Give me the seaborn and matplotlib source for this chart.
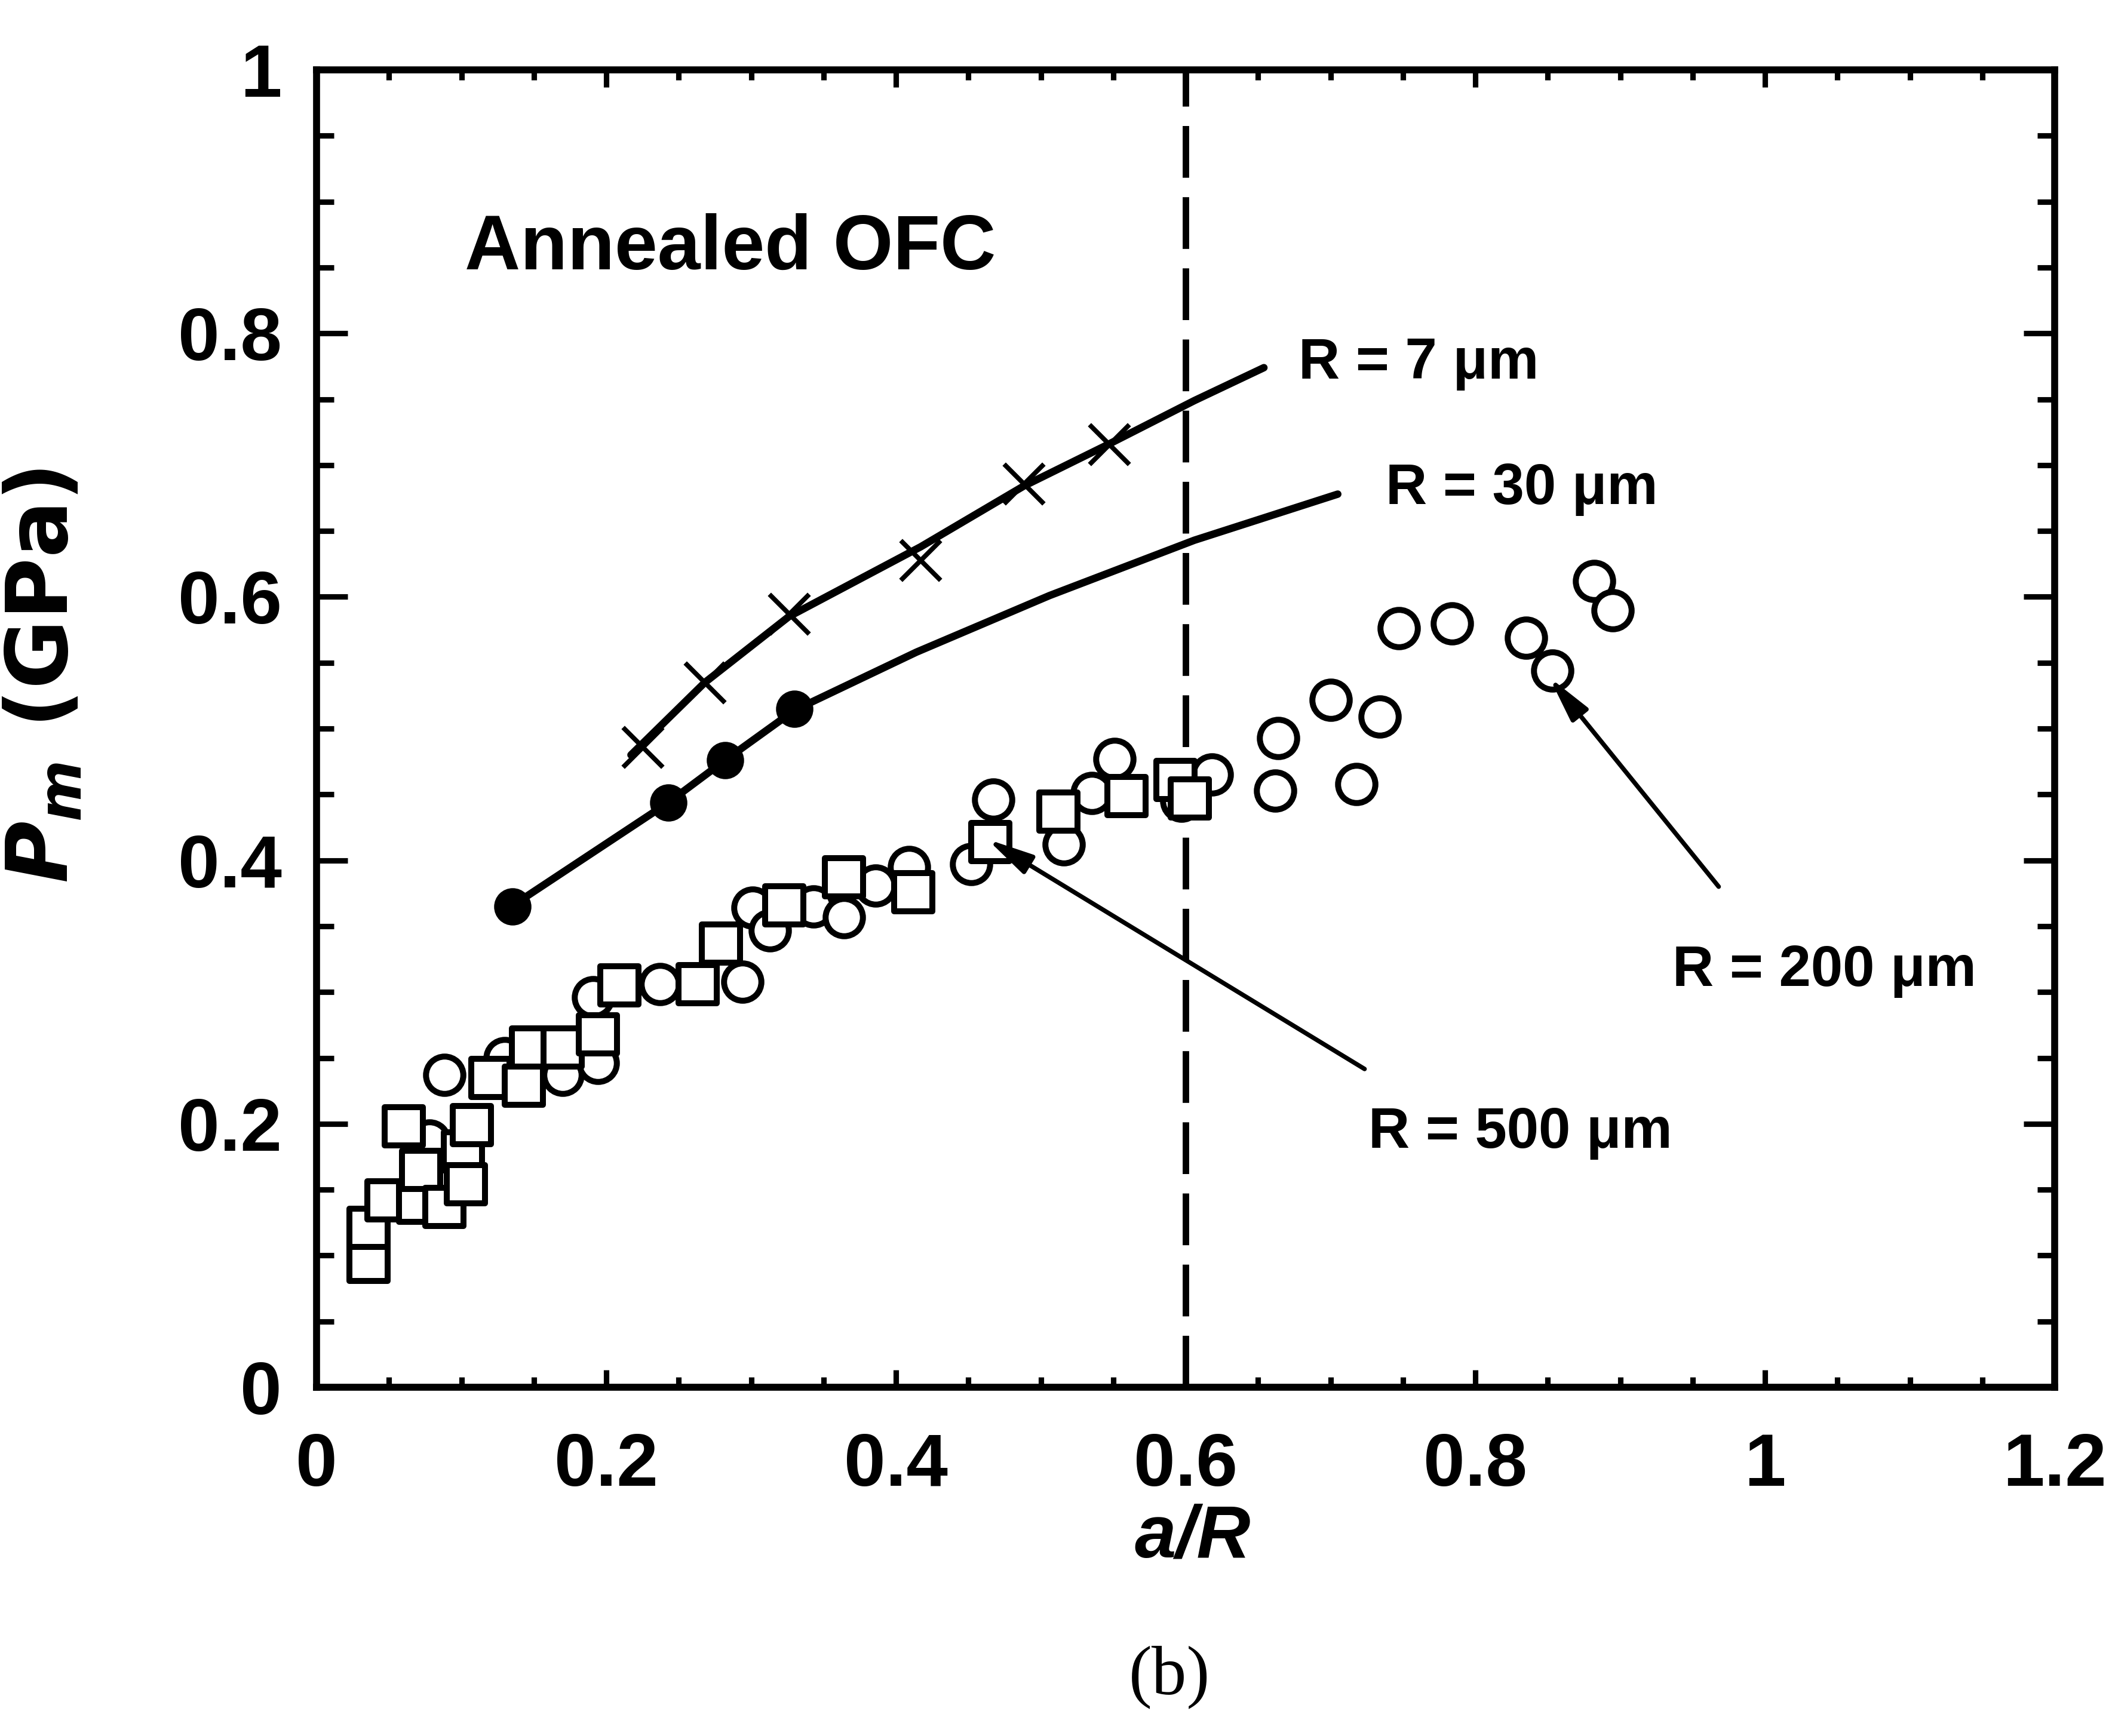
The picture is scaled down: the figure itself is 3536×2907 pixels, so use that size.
import numpy as np
import pandas as pd
import matplotlib
matplotlib.use("Agg")
import matplotlib.pyplot as plt
from matplotlib.ticker import AutoMinorLocator
import seaborn as sns

# ---------------- data ----------------
# R = 200 um (open circles)
r200_x = [0.088, 0.078, 0.130, 0.170, 0.194, 0.191, 0.237, 0.294, 0.301, 0.313,
          0.343, 0.364, 0.386, 0.409, 0.452, 0.467, 0.516, 0.535, 0.551, 0.597,
          0.618, 0.662, 0.664, 0.700, 0.718, 0.734, 0.747, 0.784, 0.835, 0.853,
          0.882, 0.895]
r200_y = [0.237, 0.187, 0.250, 0.237, 0.246, 0.296, 0.306, 0.308, 0.364, 0.347,
          0.365, 0.357, 0.381, 0.395, 0.397, 0.446, 0.412, 0.451, 0.477, 0.445,
          0.465, 0.453, 0.493, 0.522, 0.458, 0.509, 0.576, 0.580, 0.569, 0.544,
          0.612, 0.590]

# R = 500 um (open squares)
r500_x = [0.036, 0.036, 0.048, 0.060, 0.070, 0.072, 0.088, 0.101, 0.103, 0.107,
          0.120, 0.143, 0.148, 0.170, 0.194, 0.209, 0.263, 0.279, 0.323, 0.364,
          0.412, 0.465, 0.512, 0.559, 0.593, 0.603]
r500_y = [0.095, 0.121, 0.142, 0.198, 0.140, 0.165, 0.137, 0.179, 0.154, 0.199,
          0.235, 0.229, 0.258, 0.258, 0.268, 0.305, 0.306, 0.337, 0.366, 0.387,
          0.376, 0.414, 0.437, 0.449, 0.461, 0.447]

# R = 30 um (filled circles + curve)
r30_x = [0.135, 0.243, 0.282, 0.330]
r30_y = [0.365, 0.444, 0.476, 0.515]
r30_curve_x = [0.133, 0.243, 0.282, 0.330, 0.414, 0.506, 0.606, 0.705]
r30_curve_y = [0.364, 0.444, 0.476, 0.514, 0.558, 0.601, 0.643, 0.678]

# R = 7 um (crosses + curve)
r7_x = [0.225, 0.268, 0.326, 0.417, 0.488, 0.547]
r7_y = [0.486, 0.535, 0.587, 0.628, 0.686, 0.716]
r7_curve_x = [0.217, 0.268, 0.326, 0.417, 0.488, 0.547, 0.606, 0.654]
r7_curve_y = [0.480, 0.535, 0.585, 0.638, 0.684, 0.716, 0.749, 0.774]

x_ticks = [0, 0.2, 0.4, 0.6, 0.8, 1.0, 1.2]
x_tick_labels = ["0", "0.2", "0.4", "0.6", "0.8", "1", "1.2"]
y_ticks = [0, 0.2, 0.4, 0.6, 0.8, 1.0]
y_tick_labels = ["0", "0.2", "0.4", "0.6", "0.8", "1"]

critical_ratio = 0.6

# ---------------- style ----------------
sns.set_style("ticks")
FONT = ["Liberation Sans Narrow", "Liberation Sans", "DejaVu Sans"]
plt.rcParams["font.family"] = FONT
plt.rcParams["text.color"] = "black"
plt.rcParams["axes.labelcolor"] = "black"
plt.rcParams["xtick.color"] = "black"
plt.rcParams["ytick.color"] = "black"
plt.rcParams["mathtext.fontset"] = "custom"
plt.rcParams["mathtext.it"] = "DejaVu Sans:italic:bold"
plt.rcParams["mathtext.rm"] = "DejaVu Sans:bold"
plt.rcParams["mathtext.bf"] = "DejaVu Sans:bold"

fig = plt.figure(figsize=(3537 / 300, 2907 / 300), dpi=300)
ax = fig.add_axes([0.1499, 0.2009, 0.8227, 0.7588])

# open circles (R=200) then open squares (R=500)
sns.scatterplot(x=r200_x, y=r200_y, marker="o", s=15 ** 2, color="white",
                edgecolor="black", linewidth=2.4, ax=ax, zorder=3, legend=False)
sns.scatterplot(x=r500_x, y=r500_y, marker="s", s=15.5 ** 2, color="white",
                edgecolor="black", linewidth=2.4, ax=ax, zorder=4, legend=False)

# fitted curves
sns.lineplot(x=r7_curve_x, y=r7_curve_y, color="black", lw=3.0, ax=ax,
             sort=False, estimator=None, zorder=5)
sns.lineplot(x=r30_curve_x, y=r30_curve_y, color="black", lw=3.0, ax=ax,
             sort=False, estimator=None, zorder=5)

# filled circles (R=30) and crosses (R=7)
sns.scatterplot(x=r30_x, y=r30_y, marker="o", s=14 ** 2, color="black",
                edgecolor="black", linewidth=1, ax=ax, zorder=6, legend=False)
sns.scatterplot(x=r7_x, y=r7_y, marker="x", s=16 ** 2, color="black",
                linewidth=1.9, ax=ax, zorder=6, legend=False)

# dashed vertical line
ax.axvline(critical_ratio, color="black", lw=2.6, ls=(0, (8, 3)), zorder=2)

# axes
ax.set_xlim(0, 1.2)
ax.set_ylim(0, 1.0)
ax.set_xticks(x_ticks)
ax.set_xticklabels(x_tick_labels)
ax.set_yticks(y_ticks)
ax.set_yticklabels(y_tick_labels)
ax.xaxis.set_minor_locator(AutoMinorLocator(4))
ax.yaxis.set_minor_locator(AutoMinorLocator(4))
ax.tick_params(which="both", direction="in", top=True, right=True, width=2.2,
               colors="black")
ax.tick_params(axis="x", which="major", length=7, pad=18)
ax.tick_params(axis="x", which="minor", length=4)
ax.tick_params(axis="y", which="major", length=12.5, pad=14)
ax.tick_params(axis="y", which="minor", length=7)
for lab in ax.get_xticklabels() + ax.get_yticklabels():
    lab.set_fontsize(30)
    lab.set_fontweight("bold")
for sp in ax.spines.values():
    sp.set_linewidth(2.8)
    sp.set_color("black")

ax.set_xlabel("a/R", fontsize=30, fontweight="bold", fontstyle="italic",
              family=["Liberation Sans", "DejaVu Sans"])
ax.xaxis.set_label_coords(0.504, -0.088)
ax.set_ylabel(r"$P_m$ (GPa)", fontsize=34, fontweight="bold",
              family=["DejaVu Sans"])
ax.yaxis.set_label_coords(-0.133, 0.54)

# annotations
ax.text(0.102, 0.864, "Annealed OFC", fontsize=31, fontweight="bold",
        family=["Liberation Sans", "DejaVu Sans"], ha="left", va="center")
lab_kw = dict(fontsize=23, fontweight="bold", ha="left", va="center")
ax.text(0.678, 0.777, "R = 7 μm", **lab_kw)
ax.text(0.738, 0.682, "R = 30 μm", **lab_kw)
ax.text(0.936, 0.316, "R = 200 μm", **lab_kw)
ax.text(0.726, 0.193, "R = 500 μm", **lab_kw)

arrow_kw = dict(arrowstyle="-|>,head_length=0.7,head_width=0.16", color="black",
                lw=1.8, mutation_scale=22, shrinkA=0, shrinkB=0)
ax.annotate("", xy=(0.463, 0.416), xytext=(0.7235, 0.2416), arrowprops=arrow_kw,
            zorder=7)
ax.annotate("", xy=(0.851, 0.539), xytext=(0.968, 0.380), arrowprops=arrow_kw,
            zorder=7)

fig.text(0.5536, 0.034, "(b)", fontsize=28, ha="center", va="center",
         family=["Liberation Serif", "DejaVu Serif"])

fig.savefig("out.png", dpi=300, facecolor="white")
